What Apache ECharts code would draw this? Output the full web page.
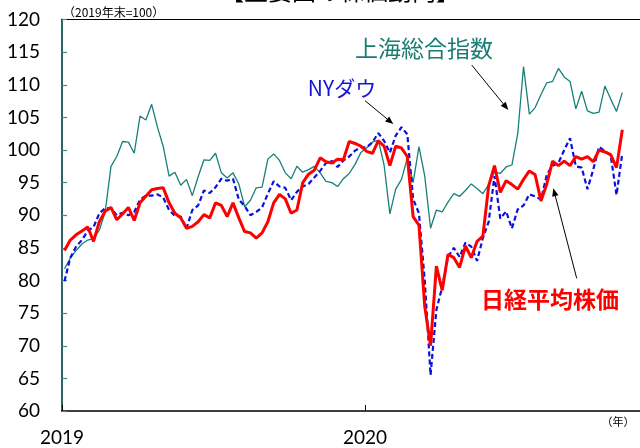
<!DOCTYPE html>
<html><head><meta charset="utf-8">
<script src="https://cdn.jsdelivr.net/npm/echarts@6/dist/echarts.min.js"></script>
<style>html,body{margin:0;padding:0;background:#fff}#c{width:640px;height:448px}</style>
</head><body><div id="c"></div>
<script>
const dates = [
'2019-01-04','2019-01-11','2019-01-18','2019-01-25','2019-02-01','2019-02-08','2019-02-15','2019-02-22','2019-03-01','2019-03-08',
'2019-03-15','2019-03-22','2019-03-29','2019-04-05','2019-04-12','2019-04-19','2019-04-26','2019-05-03','2019-05-10','2019-05-17',
'2019-05-24','2019-05-31','2019-06-07','2019-06-14','2019-06-21','2019-06-28','2019-07-05','2019-07-12','2019-07-19','2019-07-26',
'2019-08-02','2019-08-09','2019-08-16','2019-08-23','2019-08-30','2019-09-06','2019-09-13','2019-09-20','2019-09-27','2019-10-04',
'2019-10-11','2019-10-18','2019-10-25','2019-11-01','2019-11-08','2019-11-15','2019-11-22','2019-11-29','2019-12-06','2019-12-13',
'2019-12-20','2019-12-27','2020-01-03','2020-01-10','2020-01-17','2020-01-24','2020-01-31','2020-02-07','2020-02-14','2020-02-21',
'2020-02-28','2020-03-06','2020-03-13','2020-03-20','2020-03-27','2020-04-03','2020-04-10','2020-04-17','2020-04-24','2020-05-01',
'2020-05-08','2020-05-15','2020-05-22','2020-05-29','2020-06-05','2020-06-12','2020-06-19','2020-06-26','2020-07-03','2020-07-10',
'2020-07-17','2020-07-24','2020-07-31','2020-08-07','2020-08-14','2020-08-21','2020-08-28','2020-09-04','2020-09-11','2020-09-18',
'2020-09-25','2020-10-02','2020-10-09','2020-10-16','2020-10-23','2020-10-30','2020-11-06'];

const nikkei = [
84.6,86.2,87.0,87.6,88.2,86.0,89.0,90.6,91.2,89.3,
90.2,91.2,89.2,91.9,92.9,93.9,94.1,94.2,91.9,90.3,
89.6,88.0,88.3,89.0,90.1,89.6,91.9,91.5,89.8,91.9,
89.6,87.5,87.3,86.5,87.3,89.0,91.9,93.2,92.5,90.3,
90.8,95.0,96.3,96.9,98.8,98.2,98.0,98.6,98.5,101.3,
101.0,100.6,99.8,99.5,101.4,100.6,97.6,100.6,100.3,99.0,
89.8,88.5,76.0,70.0,82.2,78.5,84.0,83.5,82.0,85.3,
83.5,86.0,86.8,94.5,97.6,93.5,95.3,94.7,94.0,95.5,
96.8,96.2,92.2,94.8,98.3,97.6,98.3,97.6,99.0,98.6,
99.0,98.2,100.0,99.7,99.3,97.3,103.1];

const nyDow = [
79.9,83.5,85.2,86.2,87.6,88.2,90.3,91.1,91.1,90.0,
90.4,90.0,90.5,92.4,93.0,93.0,93.2,92.7,90.8,89.9,
89.8,88.0,90.8,91.5,93.8,93.4,94.3,95.6,95.3,95.6,
92.4,91.4,90.0,90.5,91.2,93.3,95.2,94.4,94.2,92.3,
93.6,94.4,94.8,95.8,96.8,98.0,98.3,97.4,98.4,99.0,
99.9,100.4,100.4,101.2,102.6,101.4,99.6,102.2,103.5,102.4,
92.5,90.3,80.0,65.5,75.5,79.0,83.6,85.0,83.6,85.8,
85.2,83.0,86.5,89.0,96.0,89.5,90.6,88.0,90.9,91.5,
93.2,92.9,92.4,96.2,97.6,98.0,100.0,101.8,97.5,97.3,
94.0,97.0,100.5,99.8,99.2,93.1,99.5];

const shanghai = [
81.8,83.4,84.6,85.6,86.2,86.4,87.7,90.5,97.5,99.0,
101.3,101.2,99.5,105.2,104.6,107.0,103.5,100.5,96.0,96.6,
94.6,95.5,93.0,95.9,98.5,98.4,99.5,96.5,95.7,96.5,
94.8,91.3,92.3,94.2,94.3,98.6,99.4,98.4,96.5,95.6,
97.5,96.6,97.0,97.5,96.5,95.2,95.0,94.4,95.6,96.4,
97.8,99.6,100.3,101.2,101.5,97.7,90.2,94.0,95.5,98.8,
95.0,100.5,96.0,88.0,90.8,90.5,92.0,93.3,92.9,93.8,
94.8,94.1,93.3,94.7,96.6,96.4,97.4,97.7,102.5,112.8,
105.5,106.5,108.5,110.3,110.5,112.5,111.2,110.5,106.3,109.0,
106.0,105.6,105.8,109.8,107.8,105.9,108.8];

const xTickLabels = ['2019','2020'];
const seriesNames = ['上海総合指数','NYダウ','日経平均株価'];

const DAY = 86400000;
const origin = Date.parse('2019-01-01');
const dayOf = d => (Date.parse(d) - origin) / DAY;
const pairs = arr => arr.map((v,i) => [dayOf(dates[i]), v]);

function arrow(x1,y1,x2,y2){
  const a = Math.atan2(y2-y1, x2-x1), L = 8, W = 3.2;
  const bx = x2 - L*Math.cos(a), by = y2 - L*Math.sin(a);
  const nx = -Math.sin(a), ny = Math.cos(a);
  return [
    {type:'line', z:100, shape:{x1:x1,y1:y1,x2:bx,y2:by}, style:{stroke:'#000', lineWidth:1}},
    {type:'polygon', z:100, shape:{points:[[x2,y2],[bx+nx*W,by+ny*W],[bx-nx*W,by-ny*W]]}, style:{fill:'#000'}}
  ];
}
const jp = '"Noto Sans CJK JP", sans-serif';
const num = 'Lato, "Noto Sans", sans-serif';

const chart = echarts.init(document.getElementById('c'), null, {renderer:'canvas'});
chart.setOption({
  animation:false,
  backgroundColor:'#fff',
  grid:{left:62, right:0, top:19.5, bottom:37},
  xAxis:[{
    type:'value', min:0, max:696.3, interval:365,
    axisLine:{show:true, lineStyle:{color:'#000', width:1.5}},
    axisTick:{show:true, inside:true, length:6, lineStyle:{color:'#000', width:1}},
    axisLabel:{show:true, margin:17, fontSize:19, color:'#000', fontFamily:num, showMaxLabel:false,
      formatter: v => xTickLabels[Math.round(v/365)] || ''},
    splitLine:{show:false}
  },{
    type:'value', position:'top', min:0, max:696.3,
    axisLine:{show:true, onZero:false, lineStyle:{color:'#000', width:1}},
    axisTick:{show:false}, axisLabel:{show:false}, splitLine:{show:false}
  }],
  yAxis:{
    type:'value', min:60, max:120, interval:5,
    axisLine:{show:true, lineStyle:{color:'#2c6863', width:2}},
    axisTick:{show:true, inside:true, length:5, lineStyle:{color:'#3d8f89', width:1.2}},
    axisLabel:{margin:22, fontSize:19, color:'#000', fontFamily:num},
    splitLine:{show:false}
  },
  series:[
    {name:seriesNames[0], type:'line', data:pairs(shanghai), showSymbol:false, z:2,
     lineStyle:{color:'#17807a', width:1.3}},
    {name:seriesNames[1], type:'line', data:pairs(nyDow), showSymbol:false, z:3,
     lineStyle:{color:'#0a10dd', width:2.2, type:[5,3]}},
    {name:seriesNames[2], type:'line', data:pairs(nikkei), showSymbol:false, z:4,
     lineStyle:{color:'#ff0000', width:3}}
  ],
  graphic:[
    {type:'text', x:340, y:-21, z:100, style:{text:'【主要国の株価動向】', fontSize:24, fontFamily:jp, fill:'#000', align:'center', verticalAlign:'top'}},
    {type:'text', x:63, y:12, z:100, style:{text:'（2019年末=100）', fontSize:12, fontFamily:jp, fill:'#000', align:'left', verticalAlign:'middle'}},
    {type:'text', x:618, y:422, z:100, style:{text:'（年）', fontSize:11, fontFamily:jp, fill:'#000', align:'center', verticalAlign:'middle'}},
    {type:'text', x:424, y:48, z:100, style:{text:seriesNames[0], fontSize:23, fontFamily:jp, fill:'#1b7c74', align:'center', verticalAlign:'middle'}},
    {type:'text', x:342, y:88, z:100, style:{text:seriesNames[1], fontSize:21, fontFamily:jp, fill:'#1414d4', align:'center', verticalAlign:'middle'}},
    {type:'text', x:550, y:299, z:100, style:{text:seriesNames[2], fontSize:23, fontFamily:jp, fontWeight:'bold', fill:'#ff0000', align:'center', verticalAlign:'middle'}},
    ...arrow(471.7,65,508.3,110),
    ...arrow(365,100.7,393.3,124),
    ...arrow(576.7,278.3,553.3,188.3)
  ]
});
</script></body></html>
